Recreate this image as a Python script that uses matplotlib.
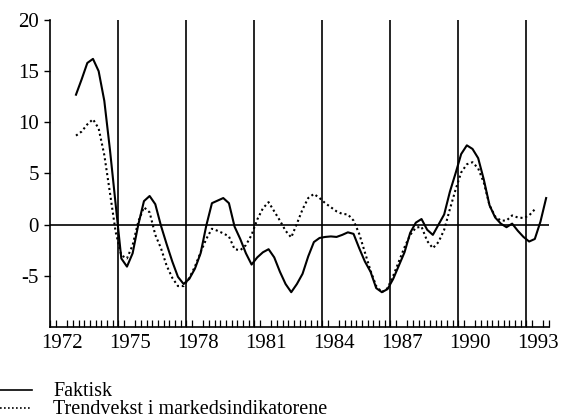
import numpy as np
import matplotlib
matplotlib.use("Agg")
import matplotlib.pyplot as plt
from matplotlib.lines import Line2D
from matplotlib.ticker import FixedLocator, MultipleLocator

plt.rcParams['font.family'] = ['Liberation Serif', 'DejaVu Serif']

# Kvartalstall, første observasjon 1973 1. kvartal
start_year = 1973

faktisk = [
    12.7, 14.2, 15.8, 16.2,     # 1973
    15.0, 12.1, 7.3, 2.0,       # 1974
    -3.3, -4.1, -2.8, 0.0,      # 1975
    2.3, 2.8, 2.0, -0.1,        # 1976
    -1.9, -3.6, -5.1, -5.8,     # 1977
    -5.3, -4.3, -2.8, -0.1,     # 1978
    2.1, 2.35, 2.6, 2.1,        # 1979
    -0.2, -1.4, -2.8, -3.9,     # 1980
    -3.2, -2.7, -2.4, -3.2,     # 1981
    -4.6, -5.8, -6.6, -5.8,     # 1982
    -4.8, -3.1, -1.7, -1.3,     # 1983
    -1.2, -1.15, -1.2, -1.0,    # 1984
    -0.75, -0.9, -2.3, -3.6,    # 1985
    -4.6, -6.2, -6.6, -6.3,     # 1986
    -5.3, -4.0, -2.7, -0.8,     # 1987
    0.2, 0.55, -0.5, -1.0,      # 1988
    0.0, 1.0, 3.2, 5.0,         # 1989
    6.9, 7.75, 7.4, 6.5,        # 1990
    4.4, 1.9, 0.7, 0.1,         # 1991
    -0.25, 0.1, -0.6, -1.2,     # 1992
    -1.65, -1.4, 0.3, 2.6,      # 1993
]

trendvekst = [
    8.7, 9.1, 9.8, 10.3,        # 1973
    9.4, 6.8, 3.1, -0.7,        # 1974
    -3.0, -3.3, -2.0, 0.3,      # 1975
    1.7, 1.2, -1.0, -2.3,       # 1976
    -4.0, -5.2, -6.0, -6.0,     # 1977
    -5.2, -4.1, -2.7, -1.4,     # 1978
    -0.4, -0.6, -0.85, -1.15,   # 1979
    -2.4, -2.5, -2.0, -1.0,     # 1980
    0.5, 1.6, 2.2, 1.3,         # 1981
    0.4, -0.6, -1.25, 0.1,      # 1982
    1.5, 2.6, 3.0, 2.6,         # 1983
    2.1, 1.7, 1.3, 1.05,        # 1984
    1.0, 0.4, -0.9, -2.7,       # 1985
    -4.5, -6.0, -6.6, -6.2,     # 1986
    -5.0, -3.6, -2.2, -1.0,     # 1987
    -0.3, -0.2, -1.6, -2.3,     # 1988
    -1.7, -0.5, 1.5, 3.4,       # 1989
    5.1, 5.9, 6.1, 5.5,         # 1990
    4.1, 1.9, 0.8, 0.4,         # 1991
    0.4, 0.9, 0.7, 0.65,        # 1992
    0.9, 1.5,                   # 1993
]

year_labels = ['1972', '1975', '1978', '1981', '1984', '1987', '1990', '1993']
y_ticks = [-5, 0, 5, 10, 15, 20]
series_names = ['Faktisk', 'Trendvekst i markedsindikatorene']

# midt i hvert kvartal
t_fak = start_year + 0.125 + 0.25 * np.arange(len(faktisk))
t_trend = start_year + 0.125 + 0.25 * np.arange(len(trendvekst))

fig = plt.figure(figsize=(5.68, 4.19), dpi=100)
ax = fig.add_axes([0.0889, 0.2196, 0.8776, 0.7327])

dotted = (0, (1, 1.4))
ax.plot(t_fak, faktisk, color='black', lw=1.5)
ax.plot(t_trend, trendvekst, color='black', lw=1.5, linestyle=dotted)

for lab in year_labels[1:]:
    ax.axvline(int(lab), color='black', lw=1.2)
ax.axhline(0, color='black', lw=1.2)

ax.set_xlim(1972, 1994)
ax.set_ylim(-10, 20)

for side in ['top', 'right']:
    ax.spines[side].set_visible(False)
for side in ['left', 'bottom']:
    ax.spines[side].set_linewidth(1.2)

ax.set_yticks(y_ticks)
ax.set_yticklabels([str(v) for v in y_ticks])
ax.tick_params(axis='y', direction='out', length=4.5, width=1, labelsize=15, pad=4)

ax.xaxis.set_major_locator(FixedLocator([int(l) + 0.5 for l in year_labels]))
ax.set_xticklabels(year_labels)
ax.xaxis.set_minor_locator(MultipleLocator(0.25))
ax.tick_params(axis='x', which='major', length=0, labelsize=15, pad=5)
ax.tick_params(axis='x', which='minor', direction='in', length=5, width=0.9)

# forklaring nederst til venstre
def fy(px):
    return 1 - px / 419

fig.add_artist(Line2D([0, 32 / 568], [fy(390), fy(390)], color='black', lw=1.2))
fig.add_artist(Line2D([0, 32 / 568], [fy(408), fy(408)], color='black', lw=1.2,
                      linestyle=dotted))
fig.text(53 / 568, fy(396), series_names[0], fontsize=14.5, va='baseline')
fig.text(53 / 568, fy(414), series_names[1], fontsize=14.5, va='baseline')

fig.savefig('out.png', dpi=100)
